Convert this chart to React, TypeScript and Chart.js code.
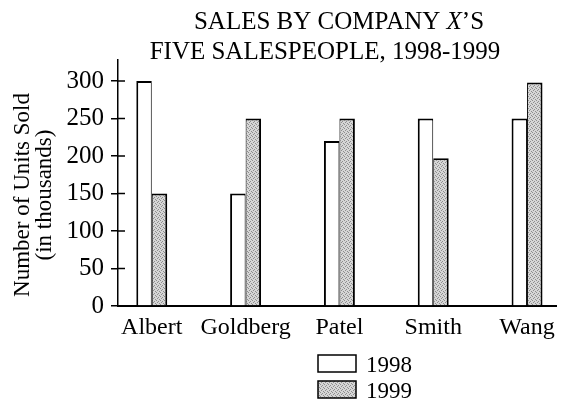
import React, { useEffect, useRef } from "react";
import { Chart, registerables } from "chart.js";

Chart.register(...registerables);

const categories = ["Albert", "Goldberg", "Patel", "Smith", "Wang"];
const sales1998 = [300, 150, 220, 250, 250];
const sales1999 = [150, 250, 250, 197, 298];
const seriesLabels = ["1998", "1999"];
const yTicks = [0, 50, 100, 150, 200, 250, 300];
const titleLine1 = [
  { text: "SALES BY COMPANY ", italic: false },
  { text: "X", italic: true },
  { text: "\u2019S", italic: false },
];
const titleLine2 = [{ text: "FIVE SALESPEOPLE, 1998-1999", italic: false }];
const yTitleLines = ["Number of Units Sold", "(in thousands)"];

const FAMILY = '"Liberation Serif", "Times New Roman", serif';

function makePattern(ctx: CanvasRenderingContext2D) {
  const pc = document.createElement("canvas");
  pc.width = 4;
  pc.height = 4;
  const c = pc.getContext("2d")!;
  c.fillStyle = "#d6d6d6";
  c.fillRect(0, 0, 4, 4);
  c.fillStyle = "#8e8e8e";
  [[0, 0], [2, 1], [1, 2], [3, 3]].forEach(([x, y]) => c.fillRect(x, y, 1, 1));
  return ctx.createPattern(pc, "repeat") as CanvasPattern;
}

export default function App() {
  const ref = useRef<HTMLCanvasElement | null>(null);

  useEffect(() => {
    document.body.style.margin = "0";
    document.body.style.overflow = "hidden";
    const canvas = ref.current!;
    const ctx = canvas.getContext("2d")!;
    const gray = makePattern(ctx);

    const decor = {
      id: "decor",
      afterDraw(chart: any) {
        const c = chart.ctx as CanvasRenderingContext2D;
        const area = chart.chartArea;
        const ys = chart.scales.y;
        c.save();
        // inner half of crossing tick marks
        c.strokeStyle = "#000";
        c.lineWidth = 1.5;
        yTicks.forEach((v) => {
          const py = ys.getPixelForValue(v);
          c.beginPath();
          c.moveTo(area.left, py);
          c.lineTo(area.left + 7, py);
          c.stroke();
        });
        // title
        c.fillStyle = "#000";
        c.textBaseline = "alphabetic";
        const drawLine = (segs: { text: string; italic: boolean }[], cx: number, by: number) => {
          let w = 0;
          segs.forEach((s) => {
            c.font = `${s.italic ? "italic " : ""}25px ${FAMILY}`;
            w += c.measureText(s.text).width;
          });
          let x = cx - w / 2;
          c.textAlign = "left";
          segs.forEach((s) => {
            c.font = `${s.italic ? "italic " : ""}25px ${FAMILY}`;
            c.fillText(s.text, x, by);
            x += c.measureText(s.text).width;
          });
        };
        drawLine(titleLine1, 339, 29);
        drawLine(titleLine2, 325, 59);
        // y title
        c.save();
        c.translate(0, 195);
        c.rotate(-Math.PI / 2);
        c.textAlign = "center";
        c.font = `23px ${FAMILY}`;
        c.fillText(yTitleLines[0], 0, 29);
        c.fillText(yTitleLines[1], 0, 51);
        c.restore();
        // legend
        chart.data.datasets.forEach((ds: any, i: number) => {
          const bx = 318;
          const by = 355 + i * 26;
          c.fillStyle = ds.backgroundColor;
          c.fillRect(bx, by, 38, 17);
          c.strokeStyle = "#000";
          c.lineWidth = 1.5;
          c.strokeRect(bx, by, 38, 17);
          c.fillStyle = "#000";
          c.textAlign = "left";
          c.font = `23px ${FAMILY}`;
          c.fillText(ds.label, 366, by + 17);
        });
        c.restore();
      },
    };

    const chart = new Chart(ctx, {
      type: "bar",
      data: {
        datasets: [
          {
            label: seriesLabels[0],
            data: sales1998.map((v, i) => ({ x: i, y: v })),
            backgroundColor: "#ffffff",
            borderColor: "#000000",
            borderWidth: { top: 2, left: 2, right: 1, bottom: 0 },
            borderSkipped: false,
          },
          {
            label: seriesLabels[1],
            data: sales1999.map((v, i) => ({ x: i, y: v })),
            backgroundColor: gray,
            borderColor: "#000000",
            borderWidth: { top: 2, left: 1, right: 2, bottom: 0 },
            borderSkipped: false,
          },
        ],
      } as any,
      options: {
        animation: false,
        responsive: false,
        maintainAspectRatio: false,
        events: [],
        layout: { padding: { top: 60, right: 4, left: 0, bottom: 0 } },
        datasets: { bar: { categoryPercentage: 0.33, barPercentage: 1 } },
        plugins: { legend: { display: false }, title: { display: false }, tooltip: { enabled: false } },
        scales: {
          x: {
            type: "linear",
            offset: false,
            min: -0.36,
            max: 4.31,
            afterBuildTicks: (s: any) => {
              s.ticks = categories.map((_, i) => ({ value: i }));
            },
            afterFit: (s: any) => {
              s.height = 102;
            },
            ticks: {
              callback: (v: any) => categories[v as number] ?? "",
              font: { family: FAMILY, size: 24 },
              color: "#000",
              padding: 7,
              autoSkip: false,
              maxRotation: 0,
            },
            grid: { display: false, drawTicks: false },
            border: { display: true, color: "#000", width: 2 },
          },
          y: {
            min: 0,
            max: 328,
            afterBuildTicks: (s: any) => {
              s.ticks = yTicks.map((v) => ({ value: v }));
            },
            afterFit: (s: any) => {
              s.width = 118;
            },
            ticks: { font: { family: FAMILY, size: 25 }, color: "#000", padding: 7 },
            grid: {
              display: true,
              drawOnChartArea: false,
              drawTicks: true,
              tickLength: 7,
              color: "#000",
              lineWidth: 1.5,
            },
            border: { display: true, color: "#000", width: 1.5 },
          },
        },
      } as any,
      plugins: [decor],
    });
    return () => chart.destroy();
  }, []);

  return <canvas ref={ref} width={562} height={408} style={{ display: "block" }} />;
}
